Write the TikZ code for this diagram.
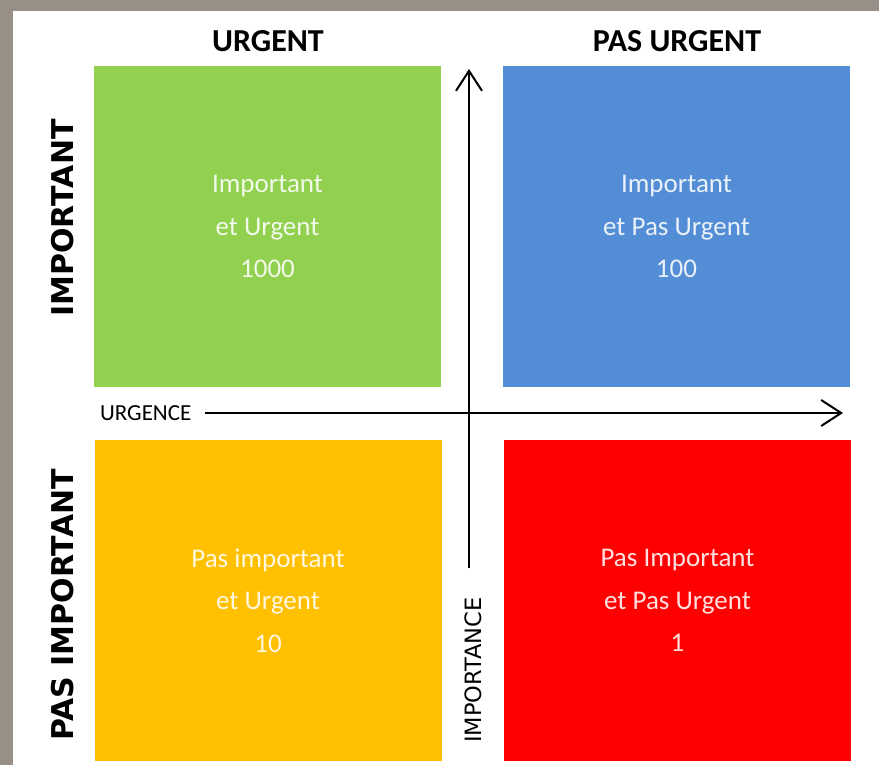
\documentclass[tikz,border=0pt]{standalone}
\usepackage{fontspec}
\setmainfont{Carlito}
\newfontfamily\dejavu{DejaVu Sans}
\usetikzlibrary{arrows.meta}
\definecolor{bgframe}{RGB}{152,143,135}
\definecolor{qgreen}{RGB}{146,208,80}
\definecolor{qblue}{RGB}{83,141,213}
\definecolor{qyellow}{RGB}{255,192,0}
\definecolor{qred}{RGB}{255,0,0}
\tikzset{
  quad/.style={minimum width=347pt, minimum height=321pt, inner sep=0pt, draw=none,
    align=center, text=white, text opacity=0.88,
    font=\fontsize{27}{42.5}\selectfont},
  colhead/.style={inner sep=0pt, font=\bfseries\fontsize{32}{36}\selectfont, text=black},
  rowhead/.style={inner sep=0pt, rotate=90, font=\dejavu\bfseries\fontsize{30}{34}\selectfont, text=black},
  axis/.style={line width=2pt, draw=black, -{Straight Barb[length=20pt,width=26pt,line width=2pt]}},
}
\begin{document}
\begin{tikzpicture}[x=1pt,y=-1pt]
\fill[bgframe] (0,0) rectangle (879,765);
\fill[white] (13,11) rectangle (879,765);
\useasboundingbox (0,0) rectangle (879,765);

\node[quad, fill=qgreen]  (q1) at (267.5,226.5) {Important\\et Urgent\\1000};
\node[quad, fill=qblue]   (q2) at (676.5,226.5) {Important\\et Pas Urgent\\100};
\node[quad, fill=qyellow] (q3) at (268,600.5) {Pas important\\et Urgent\\10};
\node[quad, fill=qred]    (q4) at (677.5,600.5) {Pas Important\\et Pas Urgent\\1};

\node[colhead] (h1) at (268,41) {URGENT};
\node[colhead] (h2) at (677,41) {PAS URGENT};

\node[rowhead] (r1) at (63,218) {IMPORTANT};
\node[rowhead] (r2) at (63,605) {PAS IMPORTANT};

\node[inner sep=0pt, anchor=west, font=\fontsize{23}{26}\selectfont] (urg) at (100,413) {URGENCE};
\node[inner sep=0pt, rotate=90, font=\dejavu\fontsize{22.5}{26}\selectfont] (imp) at (473,670) {IMPORTANCE};

\coordinate (hend) at (843,413);
\coordinate (vend) at (469,69);
\coordinate (vstart) at (469,568);

\draw[axis] ([xshift=13pt]urg.east) -- (hend);
\draw[axis] (vstart) -- (vend);
\end{tikzpicture}
\end{document}
